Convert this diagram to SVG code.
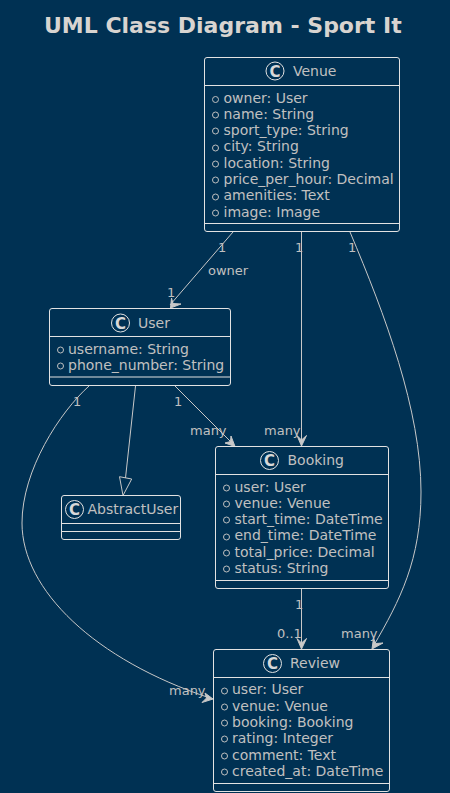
<svg xmlns="http://www.w3.org/2000/svg" width="450" height="793" viewBox="0 0 450 793">
<defs>
<style>
text{font-family:"DejaVu Sans",sans-serif;fill:#c0c0c0}
.title{font-size:22px;font-weight:bold;fill:#d8d4d0}
.name{font-size:14px}
.attr{font-size:14px}
.lab{font-size:13px}
.box{fill:#003153;stroke:#e2e2e2;stroke-width:1}
.sep{stroke:#e2e2e2;stroke-width:1}
.dot{fill:none;stroke:#c0c0c0;stroke-width:1}
.spot{fill:none;stroke:#e2e2e2;stroke-width:1}
.c{font-size:15px;font-weight:bold;fill:#d8d8d8}
.edge{fill:none;stroke:#c8c8c8;stroke-width:1}
.head{fill:#c8c8c8;stroke:#c8c8c8;stroke-width:1}
.tri{fill:none;stroke:#c8c8c8;stroke-width:1}
</style>
<g id="spot"><circle cx="0" cy="0" r="9" class="spot"/><text x="0" y="5.500" text-anchor="middle" class="c">C</text></g>
</defs>
<rect width="450" height="793" fill="#003153"/>
<text class="title" x="44" y="33">UML Class Diagram - Sport It</text>
<g id="connectors">
<path class="edge" d="M233 232L170 305"/>
<path class="head" d="M170.500 308L171.500 298L173 303.500L181 304Z"/>
<path class="edge" d="M301.500 232V443"/>
<path class="head" d="M301.500 446L297 435.500L301.500 440L306.500 435.500Z"/>
<path class="edge" d="M350 232C385 315 421 410 421 492C421 560 400 600 373.500 646"/>
<path class="head" d="M372 649L373.500 638L375.500 643.500L383 643Z"/>
<path class="edge" d="M175 386L233 444"/>
<path class="head" d="M235 446.500L225 443L230.500 441.500L231 436Z"/>
<path class="edge" d="M135.500 386L125.500 478"/>
<path class="tri" d="M123 495.500L119.500 476.700L131.700 479Z"/>
<path class="edge" d="M89 386C60 412 22 470 22 523C22 590 95 660 210 698"/>
<path class="head" d="M213 699L202 702.500L206.500 698L205 693Z"/>
<path class="edge" d="M301.500 589V646"/>
<path class="head" d="M301.500 649L297 638.500L301.500 643L306.500 638.500Z"/>
</g>
<g id="venue">
<rect class="box" x="204.500" y="57.500" width="195" height="174" rx="2.500"/>
<path class="sep" d="M204.500 85.500H399.500M204.500 223.500H399.500"/>
<use href="#spot" x="275" y="71"/>
<text class="name" x="293" y="76">Venue</text>
<g class="attr">
<circle class="dot" cx="215.500" cy="99.500" r="3"/><text x="223.500" y="103">owner: User</text>
<circle class="dot" cx="215.500" cy="115" r="3"/><text x="223.500" y="119">name: String</text>
<circle class="dot" cx="215.500" cy="131" r="3"/><text x="223.500" y="135">sport_type: String</text>
<circle class="dot" cx="215.500" cy="148" r="3"/><text x="223.500" y="151">city: String</text>
<circle class="dot" cx="215.500" cy="164" r="3"/><text x="223.500" y="168">location: String</text>
<circle class="dot" cx="215.500" cy="180" r="3"/><text x="223.500" y="184">price_per_hour: Decimal</text>
<circle class="dot" cx="215.500" cy="197" r="3"/><text x="223.500" y="200">amenities: Text</text>
<circle class="dot" cx="215.500" cy="213" r="3"/><text x="223.500" y="217">image: Image</text>
</g>
</g>
<g id="user">
<rect class="box" x="49.500" y="308.500" width="181" height="77" rx="2.500"/>
<path class="sep" d="M49.500 336.500H230.500M49.500 377H230.500"/>
<use href="#spot" x="120.500" y="323"/>
<text class="name" x="138" y="328">User</text>
<circle class="dot" cx="60.500" cy="350" r="3"/><text class="attr" x="68" y="354">username: String</text>
<circle class="dot" cx="60.500" cy="366" r="3"/><text class="attr" x="68" y="370">phone_number: String</text>
</g>
<g id="abstractuser">
<rect class="box" x="61.500" y="495.500" width="119" height="44" rx="2.500"/>
<path class="sep" d="M61.500 523.500H180.500M61.500 531.500H180.500"/>
<use href="#spot" x="74.500" y="509.500"/>
<text class="name" x="87.500" y="514">AbstractUser</text>
</g>
<g id="booking">
<rect class="box" x="215.500" y="446.500" width="173" height="142" rx="2.500"/>
<path class="sep" d="M215.500 474.500H388.500M215.500 580.500H388.500"/>
<use href="#spot" x="269.500" y="460.500"/>
<text class="name" x="287.500" y="465">Booking</text>
<circle class="dot" cx="226.500" cy="488" r="3"/><text class="attr" x="234.500" y="491.500">user: User</text>
<circle class="dot" cx="226.500" cy="504" r="3"/><text class="attr" x="234.500" y="508">venue: Venue</text>
<circle class="dot" cx="226.500" cy="520" r="3"/><text class="attr" x="234.500" y="524">start_time: DateTime</text>
<circle class="dot" cx="226.500" cy="537" r="3"/><text class="attr" x="234.500" y="540">end_time: DateTime</text>
<circle class="dot" cx="226.500" cy="553" r="3"/><text class="attr" x="234.500" y="557">total_price: Decimal</text>
<circle class="dot" cx="226.500" cy="569" r="3"/><text class="attr" x="234.500" y="573">status: String</text>
</g>
<g id="review">
<rect class="box" x="213.500" y="649.500" width="176" height="142" rx="2.500"/>
<path class="sep" d="M213.500 677.500H389.500M213.500 783.500H389.500"/>
<use href="#spot" x="272.500" y="663.500"/>
<text class="name" x="290" y="668">Review</text>
<circle class="dot" cx="224.500" cy="691" r="3"/><text class="attr" x="232" y="694">user: User</text>
<circle class="dot" cx="224.500" cy="707" r="3"/><text class="attr" x="232" y="711">venue: Venue</text>
<circle class="dot" cx="224.500" cy="723" r="3"/><text class="attr" x="232" y="727">booking: Booking</text>
<circle class="dot" cx="224.500" cy="739" r="3"/><text class="attr" x="232" y="743">rating: Integer</text>
<circle class="dot" cx="224.500" cy="756" r="3"/><text class="attr" x="232" y="760">comment: Text</text>
<circle class="dot" cx="224.500" cy="772" r="3"/><text class="attr" x="232" y="776">created_at: DateTime</text>
</g>
<g id="labels">
<text class="lab" x="218" y="252">1</text>
<text class="lab" x="208" y="275">owner</text>
<text class="lab" x="167" y="297">1</text>
<text class="lab" x="295" y="252">1</text>
<text class="lab" x="348" y="252">1</text>
<text class="lab" x="73" y="406">1</text>
<text class="lab" x="174" y="406">1</text>
<text class="lab" x="190" y="435">many</text>
<text class="lab" x="264" y="435">many</text>
<text class="lab" x="295" y="609">1</text>
<text class="lab" x="277" y="638">0..1</text>
<text class="lab" x="341" y="638">many</text>
<text class="lab" x="169" y="695">many</text>
</g>
</svg>
